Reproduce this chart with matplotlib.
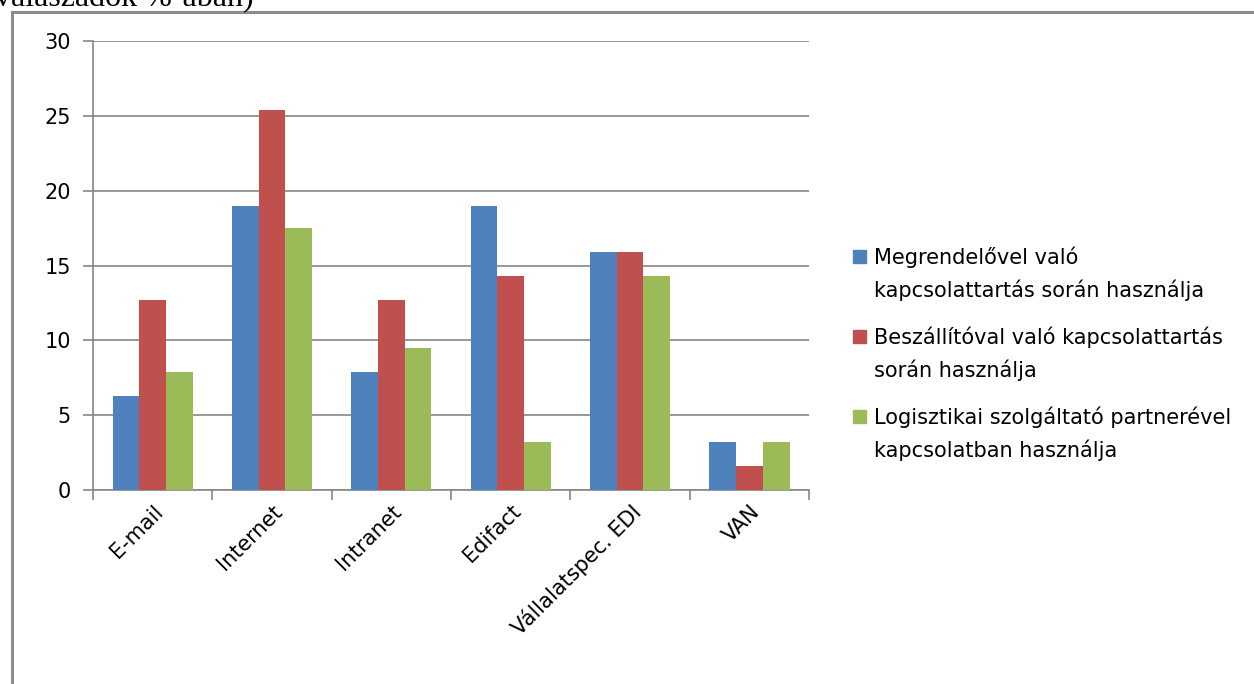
import matplotlib
matplotlib.use("Agg")
import matplotlib.pyplot as plt
from matplotlib.lines import Line2D
from matplotlib.patches import Rectangle
import numpy as np

# --- data ---
categories = ["E-mail", "Internet", "Intranet", "Edifact", "Vállalatspec. EDI", "VAN"]
customer = [6.3, 19.0, 7.9, 19.0, 15.9, 3.2]
supplier = [12.7, 25.4, 12.7, 14.3, 15.9, 1.6]
logistics = [7.9, 17.5, 9.5, 3.2, 14.3, 3.2]
series_labels = [
    "Megrendelővel való\nkapcsolattartás során használja",
    "Beszállítóval való kapcsolattartás\nsorán használja",
    "Logisztikai szolgáltató partnerével\nkapcsolatban használja",
]
y_ticks = [0, 5, 10, 15, 20, 25, 30]

# --- style ---
COL_BLUE = "#4F81BD"
COL_RED = "#C0504D"
COL_GREEN = "#9BBB59"
COL_AXIS = "#868686"
COL_FRAME = "#8C8C8C"
COL_TEXT = "#000000"
FONT = ["DejaVu Sans"]
FS = 15

plt.rcParams["font.family"] = FONT

fig = plt.figure(figsize=(12.54, 6.84), dpi=100, facecolor="white")
ax = fig.add_axes([0.0742, 0.2836, 0.5710, 0.6564])

x = np.arange(len(categories))
w = 0.224
series = [customer, supplier, logistics]
colors = [COL_BLUE, COL_RED, COL_GREEN]
for i, (vals, col) in enumerate(zip(series, colors)):
    ax.bar(x + (i - 1) * w, vals, width=w, color=col, edgecolor="none", zorder=3)

ax.set_xlim(-0.5, len(categories) - 0.5)
ax.set_ylim(0, 30)
ax.set_yticks(y_ticks)
ax.set_yticklabels([str(t) for t in y_ticks], fontsize=FS)
ax.yaxis.grid(True, color=COL_AXIS, linewidth=1.2)
ax.set_axisbelow(True)

# category ticks sit on the group boundaries
ax.set_xticks(np.arange(-0.5, len(categories), 1.0))
ax.set_xticklabels([])
ax.set_xticks(x, minor=True)
ax.set_xticklabels(categories, minor=True, rotation=45, ha="right",
                   rotation_mode="anchor", fontsize=FS)
ax.tick_params(axis="x", which="minor", length=0, pad=8)
ax.tick_params(axis="x", which="major", length=7, width=1.2, color=COL_AXIS)
ax.tick_params(axis="y", length=7, width=1.2, color=COL_AXIS, pad=9)

for side in ["top", "right"]:
    ax.spines[side].set_visible(False)
for side in ["left", "bottom"]:
    ax.spines[side].set_color(COL_AXIS)
    ax.spines[side].set_linewidth(1.2)

# legend drawn by hand so the swatch lines up with the first text line
leg_x, leg_y0, leg_step = 853 / 1254, 1 - 256 / 684, 80 / 684
sq_w, sq_h = 13 / 1254, 13 / 684
for i, (lab, col) in enumerate(zip(series_labels, colors)):
    yy = leg_y0 - i * leg_step
    fig.patches.append(Rectangle((leg_x, yy - sq_h / 2), sq_w, sq_h, color=col,
                                 transform=fig.transFigure, figure=fig))
    fig.text(874 / 1254, yy + 10 / 684, lab, ha="left", va="top", fontsize=FS,
             color=COL_TEXT, linespacing=1.68)

# outer chart frame
fig.lines.append(Line2D([12 / 1254, 12 / 1254], [0, 1 - 12 / 684], color=COL_FRAME,
                        linewidth=2.2, transform=fig.transFigure, figure=fig))
fig.lines.append(Line2D([12 / 1254, 1], [1 - 12 / 684, 1 - 12 / 684], color=COL_FRAME,
                        linewidth=2.2, transform=fig.transFigure, figure=fig))

# caption line running off the top of the page
fig.text(-0.004, 1 - 6 / 684, "válaszadók %-ában)", ha="left", va="baseline",
         fontsize=23, family="Liberation Serif", color=COL_TEXT)

fig.savefig("out.png", dpi=100, facecolor="white")
